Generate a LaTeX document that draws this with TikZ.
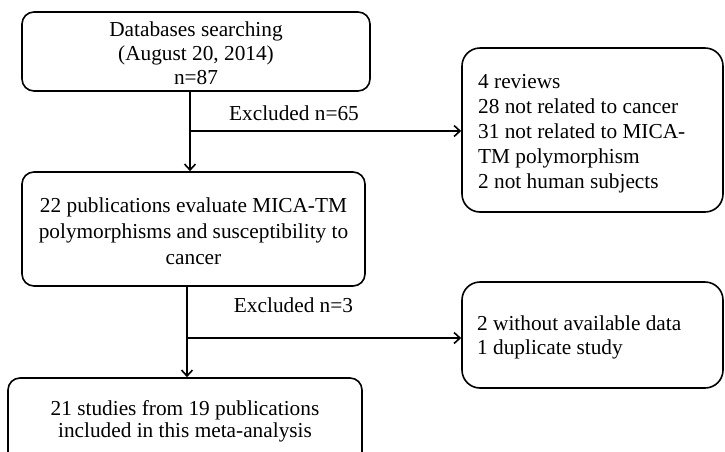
\documentclass[tikz,border=0pt]{standalone}
\usepackage{fontspec}
\setmainfont{Liberation Serif}
\usetikzlibrary{arrows.meta}
\begin{document}
\begin{tikzpicture}[x=1pt,y=-1pt,
  box/.style={draw, line width=1.6pt, rounded corners=12pt, inner sep=0pt},
  bigbox/.style={box, rounded corners=18pt},
  txt/.style={inner sep=0pt},
  arr/.style={line width=1.6pt, -{Straight Barb[length=6pt,width=11pt,line width=1.6pt]}}]
\clip (0,0) rectangle (725,451);
% boxes
\node[box, minimum width=348pt, minimum height=79pt] (b1) at (196,51.5) {};
\node[bigbox, minimum width=261pt, minimum height=164pt] (b2) at (592.5,130) {};
\node[box, minimum width=343pt, minimum height=114pt] (b3) at (193.5,229) {};
\node[bigbox, minimum width=261pt, minimum height=106pt] (b4) at (592.5,335) {};
\node[box, minimum width=354pt, minimum height=86pt] (b5) at (185,421) {};
% texts
\node[txt, align=center, font=\fontsize{21.3}{24}\selectfont] (t1) at (196,53)
  {Databases searching\\(August 20, 2014)\\n=87};
\node[txt, align=left, anchor=west, font=\fontsize{21.3}{25}\selectfont] (t2) at (478,134)
  {4 reviews\\28 not related to cancer\\31 not related to MICA-\\TM polymorphism\\2 not human subjects};
\node[txt, align=center, font=\fontsize{21.3}{26}\selectfont] (t3) at (193.5,231)
  {22 publications evaluate MICA-TM\\polymorphisms and susceptibility to\\cancer};
\node[txt, align=left, anchor=west, font=\fontsize{21.3}{24}\selectfont] (t4) at (477,337)
  {2 without available data\\1 duplicate study};
\node[txt, align=center, font=\fontsize{21.3}{22}\selectfont] (t5) at (185,421)
  {21 studies from 19 publications\\included in this meta-analysis};
% labels
\node[txt, font=\fontsize{21.3}{24}\selectfont] (l1) at (294,113) {Excluded n=65};
\node[txt, font=\fontsize{21.3}{24}\selectfont] (l2) at (293.5,305) {Excluded n=3};
% connectors
\coordinate (j1) at (190,131);
\coordinate (j2) at (187,338);
\draw[arr] (b1.south -| j1) -- (b3.north -| j1);
\draw[arr] (j1) -- (j1 -| b2.west);
\draw[arr] (b3.south -| j2) -- (b5.north -| j2);
\draw[arr] (j2) -- (j2 -| b4.west);
\end{tikzpicture}
\end{document}
